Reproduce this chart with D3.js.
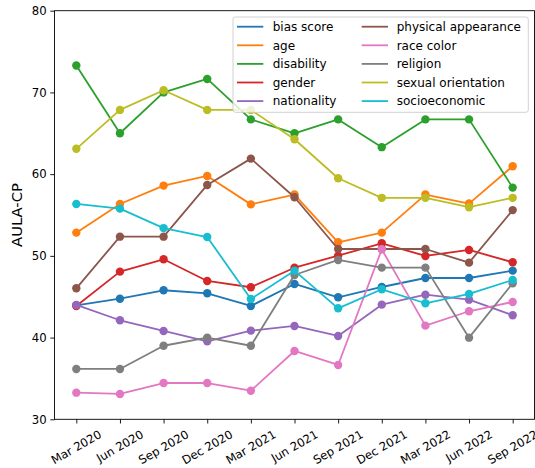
<!DOCTYPE html>
<html><head><meta charset="utf-8">
<script src="https://cdn.jsdelivr.net/npm/d3@7"></script>
<style>
html,body{margin:0;padding:0;background:#fff;}
svg{display:block;font-family:"DejaVu Sans",sans-serif;}
</style></head>
<body>
<svg id="chart" width="535" height="468"></svg>
<script>
const categories = ["Mar 2020","Jun 2020","Sep 2020","Dec 2020","Mar 2021","Jun 2021","Sep 2021","Dec 2021","Mar 2022","Jun 2022","Sep 2022"];
const yTicks = [30,40,50,60,70,80];
const seriesNames = ["bias score","age","disability","gender","nationality","physical appearance","race color","religion","sexual orientation","socioeconomic"];
const seriesColors = ["#1f77b4","#ff7f0e","#2ca02c","#d62728","#9467bd","#8c564b","#e377c2","#7f7f7f","#bcbd22","#17becf"];
const biasScore = [43.95,44.76,45.79,45.42,43.87,46.56,44.93,46.19,47.29,47.29,48.19];
const age = [52.84,56.35,58.6,59.78,56.3,57.5,51.66,52.84,57.5,56.4,60.97];
const disability = [73.3,65.0,70.0,71.65,66.7,65.0,66.7,63.3,66.7,66.7,58.35];
const gender = [43.87,48.07,49.58,46.93,46.16,48.55,50.03,51.54,49.99,50.72,49.22];
const nationality = [43.99,42.12,40.81,39.55,40.85,41.42,40.2,44.03,45.25,44.64,42.73];
const physicalAppearance = [46.03,52.35,52.35,58.68,61.9,57.17,50.84,50.84,50.84,49.17,55.6];
const raceColor = [33.26,33.1,34.44,34.44,33.5,38.36,36.65,50.8,41.46,43.22,44.36];
const religion = [36.16,36.16,39.0,39.99,39.0,47.66,49.5,48.56,48.56,39.99,46.65];
const sexualOrientation = [63.1,67.86,70.27,67.86,67.86,64.27,59.5,57.1,57.1,55.95,57.1];
const socioeconomic = [56.35,55.78,53.4,52.3,44.72,48.19,43.58,45.91,44.2,45.34,47.05];
const seriesValues = [biasScore,age,disability,gender,nationality,physicalAppearance,raceColor,religion,sexualOrientation,socioeconomic];

const svg = d3.select("#chart");
const L = 54.5, R = 534.5, T = 10.7, B = 419.3;
const x = d3.scalePoint().domain(categories).range([L, R]).padding(0.5);
const y = d3.scaleLinear().domain([30, 80]).range([B, T]);

// lines and markers
const line = d3.line().x((d,i)=>x(categories[i])).y(d=>y(d));
seriesValues.forEach((vals, si) => {
  const g = svg.append("g");
  g.append("path").datum(vals).attr("d", line)
    .attr("fill","none").attr("stroke", seriesColors[si]).attr("stroke-width",1.8)
    .attr("stroke-linejoin","round").attr("stroke-linecap","butt");
  g.selectAll("circle").data(vals).join("circle")
    .attr("cx",(d,i)=>x(categories[i])).attr("cy",d=>y(d)).attr("r",4.2)
    .attr("fill", seriesColors[si]);
});

// axes
const yAxis = d3.axisLeft(y).tickValues(yTicks).tickSize(4.2).tickPadding(3.6).tickFormat(d3.format("d"));
const gy = svg.append("g").attr("transform",`translate(${L},0)`).call(yAxis);
gy.select(".domain").remove();
gy.selectAll("line").attr("stroke","#000").attr("stroke-width",0.9);
gy.selectAll("text").attr("font-size","11.7px").attr("fill","#000").attr("font-family","DejaVu Sans");

const xAxis = d3.axisBottom(x).tickSize(4.2).tickFormat("");
const gx = svg.append("g").attr("transform",`translate(0,${B})`).call(xAxis);
gx.select(".domain").remove();
gx.selectAll("line").attr("stroke","#000").attr("stroke-width",0.9);

// rotated x labels, centered horizontally on tick, top of rotated bbox at fixed y
const topY = B + 4.2 + 3.8;
const ang = 30 * Math.PI / 180;
categories.forEach(c => {
  const t = svg.append("text").text(c).attr("font-size","11.7px").attr("fill","#000")
    .attr("text-anchor","middle").attr("dy","0.35em");
  const w = t.node().getComputedTextLength();
  const h = 13.6;
  const H = w*Math.sin(ang) + h*Math.cos(ang);
  t.attr("transform",`translate(${x(c)},${topY + H/2}) rotate(-30)`);
});

// frame
svg.append("rect").attr("x",L).attr("y",T).attr("width",R-L).attr("height",B-T)
  .attr("fill","none").attr("stroke","#000").attr("stroke-width",0.9);

// y label
svg.append("text").text("AULA-CP").attr("font-size","14.8px").attr("fill","#000")
  .attr("text-anchor","middle").attr("dy","0.35em")
  .attr("transform",`translate(17,${(T+B)/2}) rotate(-90)`);

// legend
const lg = svg.append("g");
lg.append("rect").attr("x",233).attr("y",17).attr("width",295.3).attr("height",95.3)
  .attr("rx",2.5).attr("fill","#fff").attr("fill-opacity",0.8).attr("stroke","#cccccc").attr("stroke-width",0.9);
const rowY0 = 26.7, rowDy = 18.6;
seriesNames.forEach((n, i) => {
  const col = Math.floor(i/5), row = i%5;
  const lx = col === 0 ? 237 : 361.7;
  const tx = col === 0 ? 272.7 : 396.7;
  const yy = rowY0 + row*rowDy;
  lg.append("line").attr("x1",lx).attr("x2",lx+26.3).attr("y1",yy).attr("y2",yy)
    .attr("stroke",seriesColors[i]).attr("stroke-width",1.8);
  lg.append("text").text(n).attr("x",tx).attr("y",yy).attr("dy","0.35em")
    .attr("font-size","12px").attr("fill","#000");
});
</script>
</body></html>
